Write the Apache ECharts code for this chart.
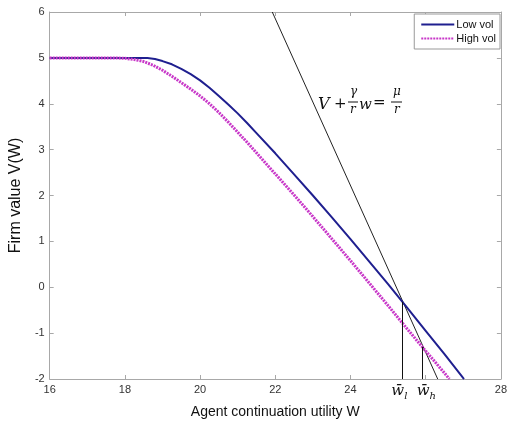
<!DOCTYPE html>
<html>
<head>
<meta charset="utf-8">
<script src="https://cdn.jsdelivr.net/npm/echarts@6/dist/echarts.min.js"></script>
<style>
  html, body { margin: 0; padding: 0; background: #fff; }
  #chart { width: 510px; height: 427px; }
</style>
</head>
<body>
<div id="chart"></div>
<script>
// values
const wLow = [16, 18.4, 18.6, 18.8, 19, 19.25, 19.5, 19.75, 20, 20.25, 20.5, 20.75, 21, 21.25, 21.5,
  22, 22.5, 23, 23.5, 24, 24.5, 25, 25.5, 26, 26.5, 27, 27.02];
const vLow = [5, 5, 4.995, 4.975, 4.93, 4.86, 4.76, 4.645, 4.51, 4.35, 4.17, 3.985, 3.79, 3.58, 3.36,
  2.92, 2.46, 2.0, 1.53, 1.05, 0.56, 0.07, -0.44, -0.95, -1.46, -1.98, -2.0];

const wHigh = [16, 17.6, 17.8, 18, 18.25, 18.5, 18.75, 19, 19.25, 19.5, 19.75, 20, 20.25, 20.5, 20.75, 21, 21.25, 21.5,
  22, 22.5, 23, 23.5, 24, 24.5, 25, 25.5, 26, 26.5, 26.63];
const vHigh = [5, 5, 4.998, 4.99, 4.965, 4.92, 4.84, 4.73, 4.6, 4.46, 4.32, 4.17, 4.0, 3.81, 3.6, 3.38, 3.16, 2.93,
  2.47, 2.01, 1.54, 1.06, 0.58, 0.09, -0.4, -0.9, -1.39, -1.87, -2.0];

// line V + (gamma/r) w = mu/r, two end points
const lineW = [21.92, 26.32];
const lineV = [6, -2];

// threshold points w_l, w_h
const markW = [25.38, 25.91];
const markV = [-0.32, -1.3];
const markNames = ['l', 'h'];

const xTicksHidden = [26];

const pairs = (xs, ys) => xs.map((x, i) => [x, ys[i]]);

const boxColor = '#a8a8a8';
const labelColor = '#333';

var chart = echarts.init(document.getElementById('chart'));

const axisCommon = {
  type: 'value',
  axisLine: { show: true, onZero: false, lineStyle: { color: boxColor, width: 1 } },
  axisTick: { show: true, inside: true, length: 4, lineStyle: { color: boxColor } },
  splitLine: { show: false }
};

chart.setOption({
  animation: false,
  grid: { left: 39, right: 7, top: 12, bottom: 48 },
  legend: {
    orient: 'vertical',
    right: 10,
    top: 14,
    backgroundColor: '#fff',
    borderColor: '#999',
    borderWidth: 1,
    borderRadius: 0,
    padding: [5, 4, 5, 6],
    itemWidth: 33,
    itemHeight: 6,
    itemGap: 3,
    itemStyle: { opacity: 0 },
    textStyle: { fontSize: 11, color: '#111', fontFamily: 'Liberation Sans', padding: [0, 0, 0, -3] },
    data: ['Low vol', 'High vol']
  },
  xAxis: [
    Object.assign({}, axisCommon, {
      min: 16, max: 28, interval: 2, position: 'bottom',
      name: 'Agent continuation utility W',
      nameLocation: 'middle',
      nameGap: 26,
      nameTextStyle: { fontSize: 14, color: '#111', fontFamily: 'Liberation Sans' },
      axisLabel: {
        fontSize: 11, color: labelColor, margin: 5, fontFamily: 'Liberation Sans',
        formatter: v => xTicksHidden.includes(v) ? '' : String(v)
      }
    }),
    Object.assign({}, axisCommon, {
      min: 16, max: 28, interval: 2, position: 'top', axisLabel: { show: false }
    })
  ],
  yAxis: [
    Object.assign({}, axisCommon, {
      min: -2, max: 6, interval: 1, position: 'left',
      name: 'Firm value V(W)',
      nameLocation: 'middle',
      nameGap: 15,
      nameTextStyle: { fontSize: 16, color: '#111', fontFamily: 'Liberation Sans' },
      axisLabel: { fontSize: 11, color: labelColor, margin: 5, fontFamily: 'Liberation Sans' }
    }),
    Object.assign({}, axisCommon, {
      min: -2, max: 6, interval: 1, position: 'right', axisLabel: { show: false }
    })
  ],
  series: [
    {
      name: 'Low vol',
      type: 'line',
      data: pairs(wLow, vLow),
      symbol: 'none',
      lineStyle: { color: '#1f1f8f', width: 2 },
      itemStyle: { color: '#1f1f8f' },
      z: 3
    },
    {
      name: 'High vol',
      type: 'line',
      data: pairs(wHigh, vHigh),
      symbol: 'none',
      lineStyle: { color: '#c838c8', width: 3, type: [2, 1] },
      itemStyle: { color: '#c838c8' },
      z: 4
    },
    {
      name: 'tangent',
      type: 'line',
      data: pairs(lineW, lineV),
      symbol: 'none',
      lineStyle: { color: '#222', width: 1 },
      z: 2,
      markLine: {
        silent: true,
        symbol: 'none',
        lineStyle: { color: '#111', width: 1, type: 'solid' },
        label: {
          show: true,
          position: 'start',
          distance: 2,
          formatter: p => '{w|w\u0304}{s|' + p.name + '}',
          rich: {
            w: { fontFamily: 'DejaVu Serif', fontStyle: 'italic', fontSize: 15, color: '#111' },
            s: { fontFamily: 'DejaVu Serif', fontStyle: 'italic', fontSize: 10, color: '#111', padding: [10, 0, 0, 0] }
          }
        },
        data: markW.map((w, i) => [
          { coord: [w, -2], name: markNames[i], label: { offset: [i === 0 ? -3 : 4, 0] } },
          { coord: [w, markV[i]] }
        ])
      }
    }
  ],
  graphic: [
    {
      type: 'group',
      left: 318,
      top: 86,
      children: [
        { type: 'text', x: 0, y: 11, style: { text: 'V', font: 'italic 16px "DejaVu Serif"', fill: '#111' } },
        { type: 'text', x: 16, y: 11, style: { text: '+', font: '15px "DejaVu Serif"', fill: '#111' } },
        { type: 'text', x: 32, y: 0, style: { text: 'γ', font: 'italic 12px "DejaVu Serif"', fill: '#111' } },
        { type: 'line', shape: { x1: 30, y1: 16, x2: 40, y2: 16 }, style: { stroke: '#111', lineWidth: 1 } },
        { type: 'text', x: 32, y: 18, style: { text: 'r', font: 'italic 12px "DejaVu Serif"', fill: '#111' } },
        { type: 'text', x: 41, y: 12, style: { text: 'w', font: 'italic 15px "DejaVu Serif"', fill: '#111' } },
        { type: 'text', x: 55, y: 10, style: { text: '=', font: '15px "DejaVu Serif"', fill: '#111' } },
        { type: 'text', x: 75, y: 0, style: { text: 'μ', font: 'italic 12px "DejaVu Serif"', fill: '#111' } },
        { type: 'line', shape: { x1: 73, y1: 16, x2: 84, y2: 16 }, style: { stroke: '#111', lineWidth: 1 } },
        { type: 'text', x: 76, y: 18, style: { text: 'r', font: 'italic 12px "DejaVu Serif"', fill: '#111' } }
      ]
    }
  ]
});
</script>
</body>
</html>
